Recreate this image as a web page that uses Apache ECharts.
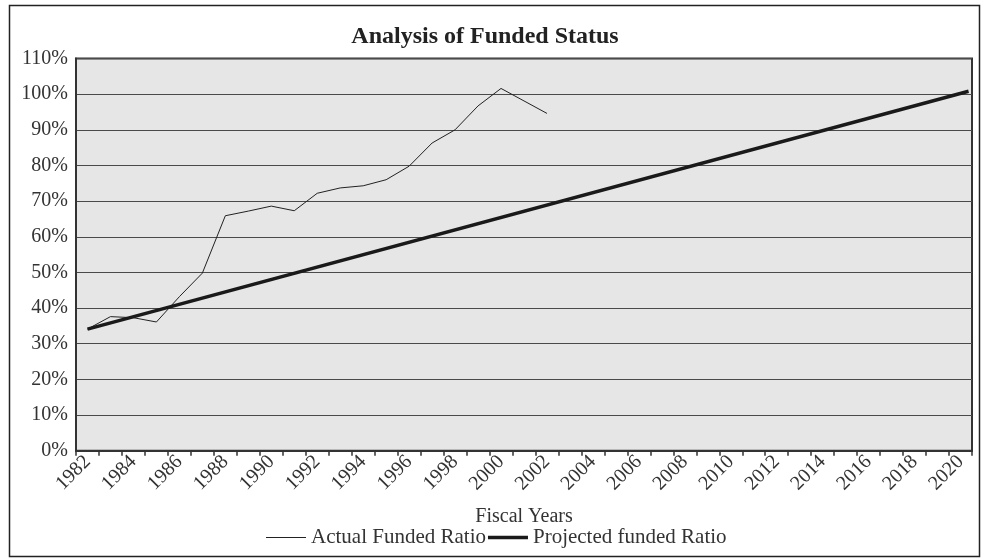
<!DOCTYPE html>
<html>
<head>
<meta charset="utf-8">
<script src="https://cdn.jsdelivr.net/npm/echarts@6/dist/echarts.min.js"></script>
<style>
  html, body { margin: 0; padding: 0; background: #fff; }
  #chart { width: 981px; height: 559px; }
</style>
</head>
<body>
<div id="chart"></div>
<script>
// ---- data ----
const years = ['1982','1983','1984','1985','1986','1987','1988','1989','1990','1991',
  '1992','1993','1994','1995','1996','1997','1998','1999','2000','2001',
  '2002','2003','2004','2005','2006','2007','2008','2009','2010','2011',
  '2012','2013','2014','2015','2016','2017','2018','2019','2020'];
const actualFundedRatio = [34.1, 37.6, 37.3, 36.1, 43.2, 49.8, 65.9, 67.2, 68.6, 67.3,
  72.2, 73.7, 74.3, 76.0, 79.8, 86.3, 90.0, 96.7, 101.6, 98.1, 94.6];
const projectedYears = [1982, 2020.35];
const projectedRatio = [34.1, 100.8];
const yTicks = [0, 10, 20, 30, 40, 50, 60, 70, 80, 90, 100, 110];

const SERIF = '"Liberation Serif", "Times New Roman", serif';
const chart = echarts.init(document.getElementById('chart'));

chart.setOption({
  animation: false,
  backgroundColor: '#ffffff',
  textStyle: { fontFamily: SERIF },
  grid: {
    left: 76, right: 9, top: 58.5, bottom: 108.3,
    show: true, backgroundColor: '#e6e6e6', borderColor: '#333', borderWidth: 2
  },
  legend: {
    left: 266, top: 527, padding: 0,
    itemWidth: 40, itemHeight: 14, itemGap: 2, symbolKeepAspect: true,
    textStyle: { fontFamily: SERIF, fontSize: 21, color: '#333' },
    data: [
      { name: 'Actual Funded Ratio', icon: 'path://M0,0H40V1H0Z' },
      { name: 'Projected funded Ratio', icon: 'path://M0,0H40V3.5H0Z' }
    ]
  },
  graphic: [
    { type: 'rect', silent: true, z: -1,
      shape: { x: 9.5, y: 5.5, width: 970, height: 551 },
      style: { fill: 'none', stroke: '#222', lineWidth: 1.5 } },
    { type: 'text', x: 485, y: 37,
      style: { text: 'Analysis of Funded Status', font: 'bold 24px ' + SERIF, fill: '#222',
               textAlign: 'center', textVerticalAlign: 'middle' } },
    { type: 'text', x: 524, y: 517,
      style: { text: 'Fiscal Years', font: '20px ' + SERIF, fill: '#333',
               textAlign: 'center', textVerticalAlign: 'middle' } }
  ],
  xAxis: [
    {
      type: 'category', data: years, boundaryGap: true,
      axisLine: { lineStyle: { color: '#333', width: 2 } },
      axisTick: { show: true, interval: 0, length: 5, lineStyle: { color: '#333', width: 1.5 } },
      axisLabel: { interval: 1, rotate: 45, margin: 8, fontFamily: SERIF, fontSize: 20, color: '#333' },
      splitLine: { show: false }
    },
    {
      type: 'value', min: 1981.5, max: 2020.5, show: false
    }
  ],
  yAxis: {
    type: 'value', min: yTicks[0], max: yTicks[yTicks.length - 1], interval: 10,
    axisLine: { show: true, lineStyle: { color: '#333', width: 2 } },
    axisTick: { show: false },
    axisLabel: { margin: 8, fontFamily: SERIF, fontSize: 20, color: '#333',
                 formatter: v => v + '%' },
    splitLine: { lineStyle: { color: '#4a4a4a', width: 1.2 } }
  },
  series: [
    {
      name: 'Actual Funded Ratio', type: 'line', xAxisIndex: 0,
      data: actualFundedRatio, symbol: 'none', showSymbol: false,
      lineStyle: { color: '#222', width: 1 }, itemStyle: { color: '#222' }
    },
    {
      name: 'Projected funded Ratio', type: 'line', xAxisIndex: 1,
      data: projectedYears.map((y, i) => [y, projectedRatio[i]]),
      symbol: 'none', showSymbol: false,
      lineStyle: { color: '#1a1a1a', width: 3.5 }, itemStyle: { color: '#1a1a1a' }
    }
  ]
});
</script>
</body>
</html>
